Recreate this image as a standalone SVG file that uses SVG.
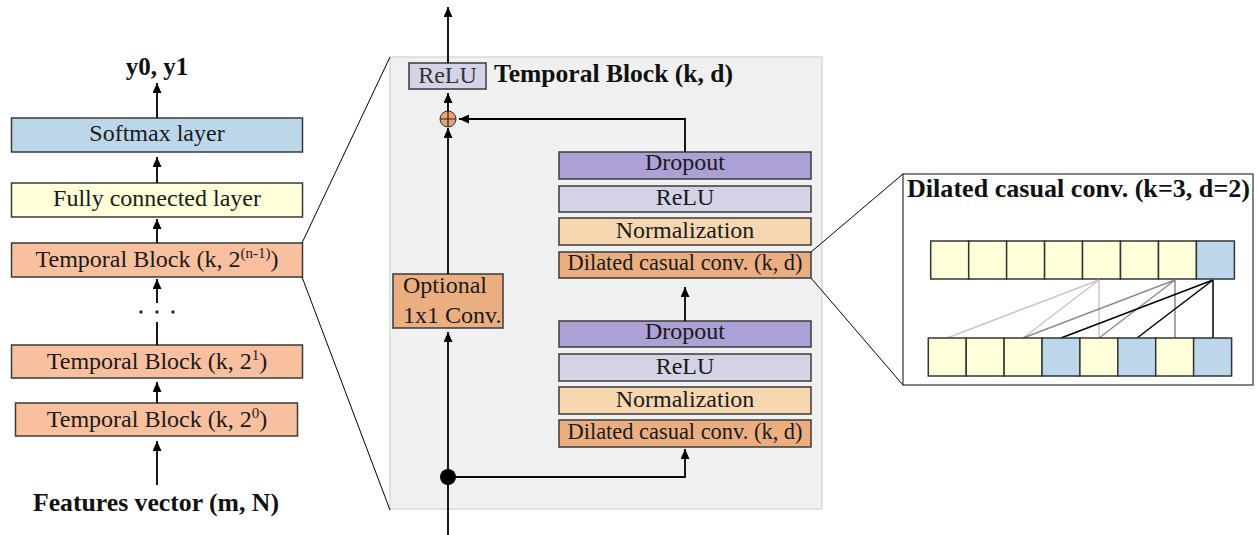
<svg xmlns="http://www.w3.org/2000/svg" width="1257" height="535" viewBox="0 0 1257 535">
  <defs>
    <marker id="arrow" viewBox="0 0 10 9" markerWidth="10" markerHeight="9" refX="10" refY="4.5" orient="auto" markerUnits="userSpaceOnUse">
      <path d="M0,0 L10,4.5 L0,9 z" fill="#000"/>
    </marker>
  </defs>
  <style>
    .box{stroke:#3a3a3a;stroke-width:1.5}
    .cell{stroke:#333;stroke-width:1.5}
    .t{font-family:"Liberation Serif",serif;font-size:24px;fill:#1a1a1a;text-anchor:middle}
    .tl{font-family:"Liberation Serif",serif;font-size:24px;fill:#1a1a1a;text-anchor:start}
    .b{font-family:"Liberation Serif",serif;font-weight:bold;font-size:25px;fill:#111}
    .ln{stroke:#000;stroke-width:1.8;fill:none}
    .zoom{stroke:#000;stroke-width:1;fill:none}
    .softmax{fill:#bdd7ea}
    .fc{fill:#ffffda}
    .tb{fill:#f9c0a0}
    .drop{fill:#ada0d4}
    .relu{fill:#d5d3e6}
    .norm{fill:#f6d7b0}
    .conv{fill:#ebae80}
    .yel{fill:#ffffda}
    .blu{fill:#bdd7ea}
  </style>

  <!-- Temporal block panel background -->
  <rect id="panel" x="390" y="57" width="432" height="452" fill="#f0f0f0" stroke="#dadada" stroke-width="1.5"/>

  <!-- Left column: the network stack -->
  <g id="label-out">
    <text class="b" x="157" y="75" text-anchor="middle">y0, y1</text>
  </g>
  <g id="softmax">
    <rect class="box softmax" x="11.5" y="118" width="291" height="34"/>
    <text class="t" x="157" y="141">Softmax layer</text>
  </g>
  <g id="fully-connected">
    <rect class="box fc" x="11.5" y="183" width="291" height="34"/>
    <text class="t" x="157" y="206">Fully connected layer</text>
  </g>
  <g id="tb-n1">
    <rect class="box tb" x="11.5" y="243" width="291" height="34"/>
    <text class="t" x="157" y="267">Temporal Block (k, 2<tspan font-size="15" dy="-9">(n-1)</tspan><tspan dy="9">)</tspan></text>
  </g>
  <g id="ellipsis">
    <circle cx="141" cy="312" r="1.8" fill="#333"/>
    <circle cx="157" cy="312" r="1.8" fill="#333"/>
    <circle cx="173" cy="312" r="1.8" fill="#333"/>
  </g>
  <g id="tb-1">
    <rect class="box tb" x="11.5" y="345" width="291" height="33"/>
    <text class="t" x="157" y="369">Temporal Block (k, 2<tspan font-size="15" dy="-9">1</tspan><tspan dy="9">)</tspan></text>
  </g>
  <g id="tb-0">
    <rect class="box tb" x="15.5" y="403" width="282" height="33"/>
    <text class="t" x="157" y="427">Temporal Block (k, 2<tspan font-size="15" dy="-9">0</tspan><tspan dy="9">)</tspan></text>
  </g>
  <g id="label-in">
    <text class="b" x="33" y="511" textLength="246" lengthAdjust="spacingAndGlyphs">Features vector (m, N)</text>
  </g>

  <!-- Temporal block internals -->
  <g id="relu-out">
    <rect class="box relu" x="409" y="63" width="77" height="26"/>
    <text class="t" x="447.5" y="83" style="fill:#333">ReLU</text>
  </g>
  <g id="panel-title">
    <text class="b" x="494" y="82" textLength="239" lengthAdjust="spacingAndGlyphs">Temporal Block (k, d)</text>
  </g>
  <g id="add">
    <circle cx="448" cy="119" r="8" fill="#e9a272" stroke="#333" stroke-width="1"/>
    <path d="M440,119 H456 M448,111 V127" stroke="#222" stroke-width="1.2"/>
  </g>
  <g id="optional-conv">
    <rect class="box conv" x="393" y="274" width="110" height="54"/>
    <text class="tl" x="403" y="293">Optional</text>
    <text class="tl" x="403" y="323">1x1 Conv.</text>
  </g>

  <g id="dropout-2">
    <rect class="box drop" x="559" y="152" width="252" height="27"/>
    <text class="t" x="685" y="170">Dropout</text>
  </g>
  <g id="relu-2">
    <rect class="box relu" x="559" y="186" width="252" height="26"/>
    <text class="t" x="685" y="205">ReLU</text>
  </g>
  <g id="norm-2">
    <rect class="box norm" x="559" y="218" width="252" height="27"/>
    <text class="t" x="685" y="238">Normalization</text>
  </g>
  <g id="conv-2">
    <rect class="box conv" x="559" y="252" width="252" height="26"/>
    <text class="t" x="685" y="270" textLength="235" lengthAdjust="spacingAndGlyphs">Dilated casual conv. (k, d)</text>
  </g>

  <g id="dropout-1">
    <rect class="box drop" x="559" y="321" width="252" height="26"/>
    <text class="t" x="685" y="339">Dropout</text>
  </g>
  <g id="relu-1">
    <rect class="box relu" x="559" y="354" width="252" height="27"/>
    <text class="t" x="685" y="374">ReLU</text>
  </g>
  <g id="norm-1">
    <rect class="box norm" x="559" y="387" width="252" height="27"/>
    <text class="t" x="685" y="407">Normalization</text>
  </g>
  <g id="conv-1">
    <rect class="box conv" x="559" y="420" width="252" height="27"/>
    <text class="t" x="685" y="439" textLength="235" lengthAdjust="spacingAndGlyphs">Dilated casual conv. (k, d)</text>
  </g>

  <!-- Dilated convolution detail -->
  <g id="dilated-detail">
    <rect x="903" y="174" width="350" height="211" fill="#fff" stroke="#333" stroke-width="1.2"/>
    <text class="b" x="907" y="197" textLength="343" lengthAdjust="spacingAndGlyphs">Dilated casual conv. (k=3, d=2)</text>
    <g id="input-row">
      <rect class="cell yel" x="930.7" y="241" width="38" height="38"/>
      <rect class="cell yel" x="968.7" y="241" width="38" height="38"/>
      <rect class="cell yel" x="1006.6" y="241" width="38" height="38"/>
      <rect class="cell yel" x="1044.6" y="241" width="38" height="38"/>
      <rect class="cell yel" x="1082.5" y="241" width="38" height="38"/>
      <rect class="cell yel" x="1120.5" y="241" width="38" height="38"/>
      <rect class="cell yel" x="1158.5" y="241" width="38" height="38"/>
      <rect class="cell blu" x="1196.4" y="241" width="38" height="38"/>
    </g>
    <g id="taps" fill="none" stroke-width="1.5">
      <path d="M1099,280 L947,338 M1099,280 L1023,338 M1099,280 L1099,338" stroke="#c8c8c8"/>
      <path d="M1175,280 L1023,338 M1175,280 L1099,338 M1175,280 L1175,338" stroke="#8c8c8c"/>
      <path d="M1213,280 L1061,338 M1213,280 L1137,338 M1213,280 L1213,338" stroke="#000"/>
    </g>
    <g id="output-row">
      <rect class="cell yel" x="928.3" y="338" width="38" height="38"/>
      <rect class="cell yel" x="966.2" y="338" width="38" height="38"/>
      <rect class="cell yel" x="1004.1" y="338" width="38" height="38"/>
      <rect class="cell blu" x="1042" y="338" width="38" height="38"/>
      <rect class="cell yel" x="1079.9" y="338" width="38" height="38"/>
      <rect class="cell blu" x="1117.8" y="338" width="38" height="38"/>
      <rect class="cell yel" x="1155.7" y="338" width="38" height="38"/>
      <rect class="cell blu" x="1193.6" y="338" width="38" height="38"/>
    </g>
  </g>

  <!-- Connectors -->
  <g id="connectors">
    <!-- left stack -->
    <line class="ln" x1="157" y1="118" x2="157" y2="83" marker-end="url(#arrow)"/>
    <line class="ln" x1="157" y1="183" x2="157" y2="157" marker-end="url(#arrow)"/>
    <line class="ln" x1="157" y1="243" x2="157" y2="219" marker-end="url(#arrow)"/>
    <line class="ln" x1="157" y1="303" x2="157" y2="279" marker-end="url(#arrow)"/>
    <line class="ln" x1="157" y1="345" x2="157" y2="322"/>
    <line class="ln" x1="157" y1="403" x2="157" y2="382" marker-end="url(#arrow)"/>
    <line class="ln" x1="157" y1="485" x2="157" y2="441" marker-end="url(#arrow)"/>

    <!-- zoom guides -->
    <line class="zoom" x1="302" y1="243" x2="390" y2="57"/>
    <line class="zoom" x1="302" y1="277" x2="390" y2="510"/>
    <line class="zoom" x1="811" y1="252" x2="903" y2="174"/>
    <line class="zoom" x1="811" y1="278" x2="903" y2="385"/>

    <!-- temporal block -->
    <line class="ln" x1="448" y1="63" x2="448" y2="7" marker-end="url(#arrow)"/>
    <line class="ln" x1="448" y1="111" x2="448" y2="93" marker-end="url(#arrow)"/>
    <line class="ln" x1="448" y1="274" x2="448" y2="128" marker-end="url(#arrow)"/>
    <line class="ln" x1="448" y1="477" x2="448" y2="332" marker-end="url(#arrow)"/>
    <line class="ln" x1="448" y1="535" x2="448" y2="477"/>
    <path class="ln" d="M685,152 V119 H459" marker-end="url(#arrow)"/>
    <path class="ln" d="M448,477 H685 V449" marker-end="url(#arrow)"/>
    <line class="ln" x1="685" y1="321" x2="685" y2="287" marker-end="url(#arrow)"/>
    <circle cx="448" cy="477" r="8" fill="#000"/>
  </g>
</svg>
